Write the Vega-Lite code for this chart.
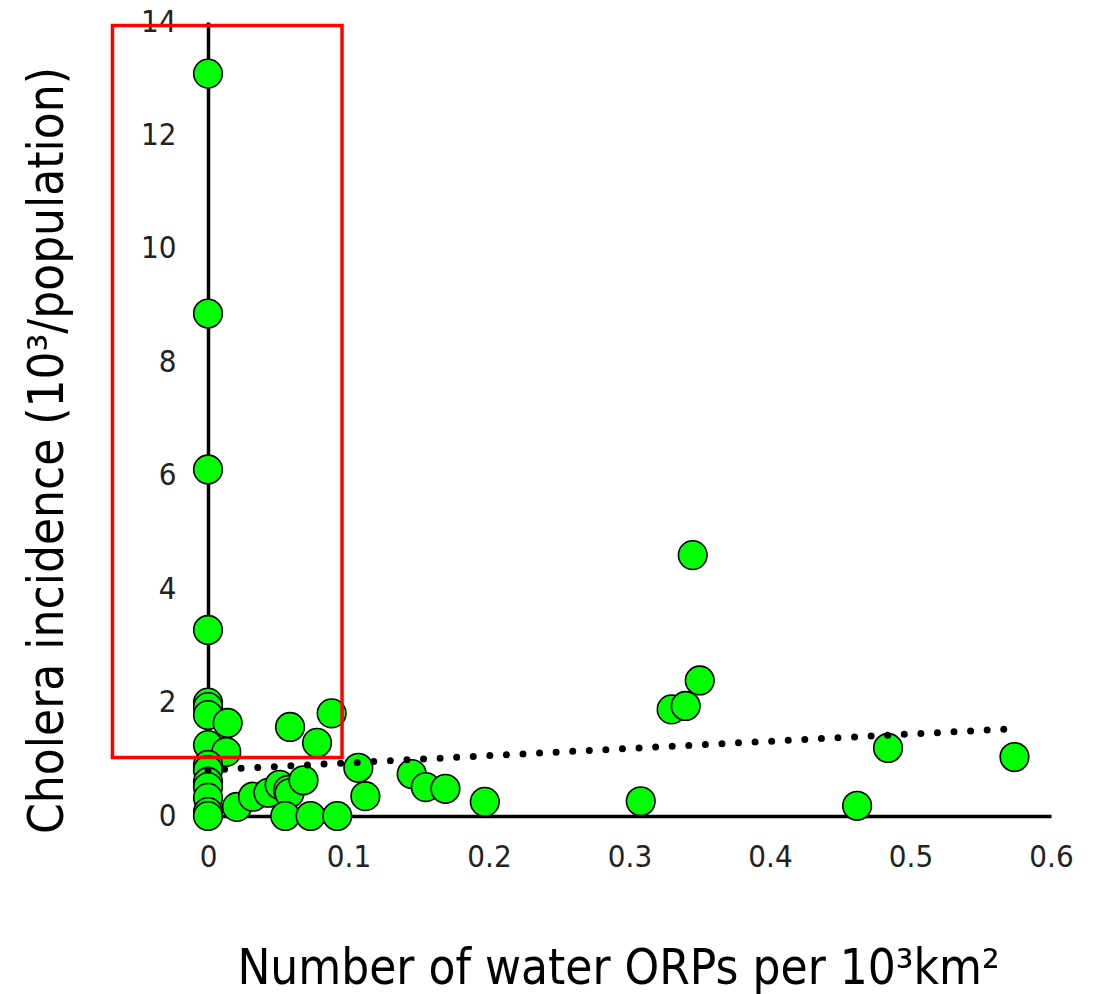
{
  "$schema": "https://vega.github.io/schema/vega-lite/v6.json",
  "width": 843,
  "height": 794,
  "autosize": {"type": "none"},
  "padding": {"left": 208, "top": 22, "right": 48, "bottom": 178},
  "background": "white",
  "config": {
    "view": {"stroke": null},
    "font": "DejaVu Sans Condensed, sans-serif",
    "axis": {
      "grid": false,
      "ticks": false,
      "labelFlush": false,
      "domainColor": "black",
      "domainWidth": 3.5,
      "labelColor": "#222",
      "titleColor": "black",
      "labelFont": "DejaVu Sans Condensed, sans-serif",
      "titleFont": "DejaVu Sans Condensed, sans-serif",
      "labelFontSize": 31,
      "titleFontSize": 49,
      "titleFontWeight": "normal"
    }
  },
  "datasets": {
    "points": [
      {"orp": 0, "incidence": 13.09},
      {"orp": 0, "incidence": 8.86},
      {"orp": 0, "incidence": 6.11},
      {"orp": 0, "incidence": 3.28},
      {"orp": 0, "incidence": 2.0},
      {"orp": 0, "incidence": 1.92},
      {"orp": 0, "incidence": 1.78},
      {"orp": 0.014, "incidence": 1.64},
      {"orp": 0, "incidence": 1.25},
      {"orp": 0.013, "incidence": 1.13},
      {"orp": 0, "incidence": 0.9},
      {"orp": 0, "incidence": 0.81},
      {"orp": 0, "incidence": 0.6},
      {"orp": 0, "incidence": 0.51},
      {"orp": 0, "incidence": 0.32},
      {"orp": 0, "incidence": 0.07},
      {"orp": 0, "incidence": 0.0},
      {"orp": 0.0206, "incidence": 0.16},
      {"orp": 0.032, "incidence": 0.34},
      {"orp": 0.043, "incidence": 0.41},
      {"orp": 0.051, "incidence": 0.55},
      {"orp": 0.057, "incidence": 0.46},
      {"orp": 0.058, "incidence": 0.4},
      {"orp": 0.068, "incidence": 0.63},
      {"orp": 0.055, "incidence": 0.0},
      {"orp": 0.073, "incidence": 0.0},
      {"orp": 0.092, "incidence": 0.0},
      {"orp": 0.0584, "incidence": 1.57},
      {"orp": 0.088, "incidence": 1.81},
      {"orp": 0.0776, "incidence": 1.29},
      {"orp": 0.107, "incidence": 0.85},
      {"orp": 0.112, "incidence": 0.35},
      {"orp": 0.145, "incidence": 0.74},
      {"orp": 0.155, "incidence": 0.51},
      {"orp": 0.169, "incidence": 0.48},
      {"orp": 0.197, "incidence": 0.25},
      {"orp": 0.308, "incidence": 0.26},
      {"orp": 0.33, "incidence": 1.88},
      {"orp": 0.34, "incidence": 1.94},
      {"orp": 0.345, "incidence": 4.6},
      {"orp": 0.35, "incidence": 2.39},
      {"orp": 0.462, "incidence": 0.18},
      {"orp": 0.484, "incidence": 1.2},
      {"orp": 0.574, "incidence": 1.04}
    ],
    "trend": [
      {"orp": 0, "incidence": 0.81},
      {"orp": 0.5665, "incidence": 1.53}
    ],
    "box": [
      {"x1": -0.068, "x2": 0.0954, "y1": 1.03, "y2": 13.94}
    ]
  },
  "layer": [
    {
      "data": {"name": "points"},
      "mark": {"type": "point", "shape": "circle", "filled": true, "fill": "#00FF00", "stroke": "black", "strokeWidth": 1.6, "opacity": 1, "size": 820},
      "encoding": {
        "x": {
          "field": "orp", "type": "quantitative",
          "scale": {"domain": [0, 0.6], "nice": false, "zero": false},
          "axis": {
            "values": [0, 0.1, 0.2, 0.3, 0.4, 0.5, 0.6],
            "format": "~g",
            "labelPadding": 26,
            "title": "Number of water ORPs per 10³km²",
            "titleX": 410,
            "titleY": 152,
            "titleBaseline": "middle",
            "titleAlign": "center"
          }
        },
        "y": {
          "field": "incidence", "type": "quantitative",
          "scale": {"domain": [0, 14], "nice": false},
          "axis": {
            "values": [0, 2, 4, 6, 8, 10, 12, 14],
            "format": "~g",
            "labelPadding": 32,
            "labelBaseline": "middle",
            "title": "Cholera incidence (10³/population)",
            "titleX": -161,
            "titleY": 428,
            "titleAngle": -90,
            "titleBaseline": "middle",
            "titleAlign": "center"
          }
        }
      }
    },
    {
      "data": {"name": "trend"},
      "mark": {"type": "line", "color": "black", "strokeWidth": 7, "strokeCap": "round", "strokeDash": [0, 16.6]},
      "encoding": {
        "x": {"field": "orp", "type": "quantitative"},
        "y": {"field": "incidence", "type": "quantitative"}
      }
    },
    {
      "data": {"name": "box"},
      "mark": {"type": "rect", "fill": null, "fillOpacity": 0, "stroke": "#FF0000", "strokeWidth": 3.5},
      "encoding": {
        "x": {"field": "x1", "type": "quantitative"},
        "x2": {"field": "x2"},
        "y": {"field": "y1", "type": "quantitative"},
        "y2": {"field": "y2"}
      }
    }
  ]
}
